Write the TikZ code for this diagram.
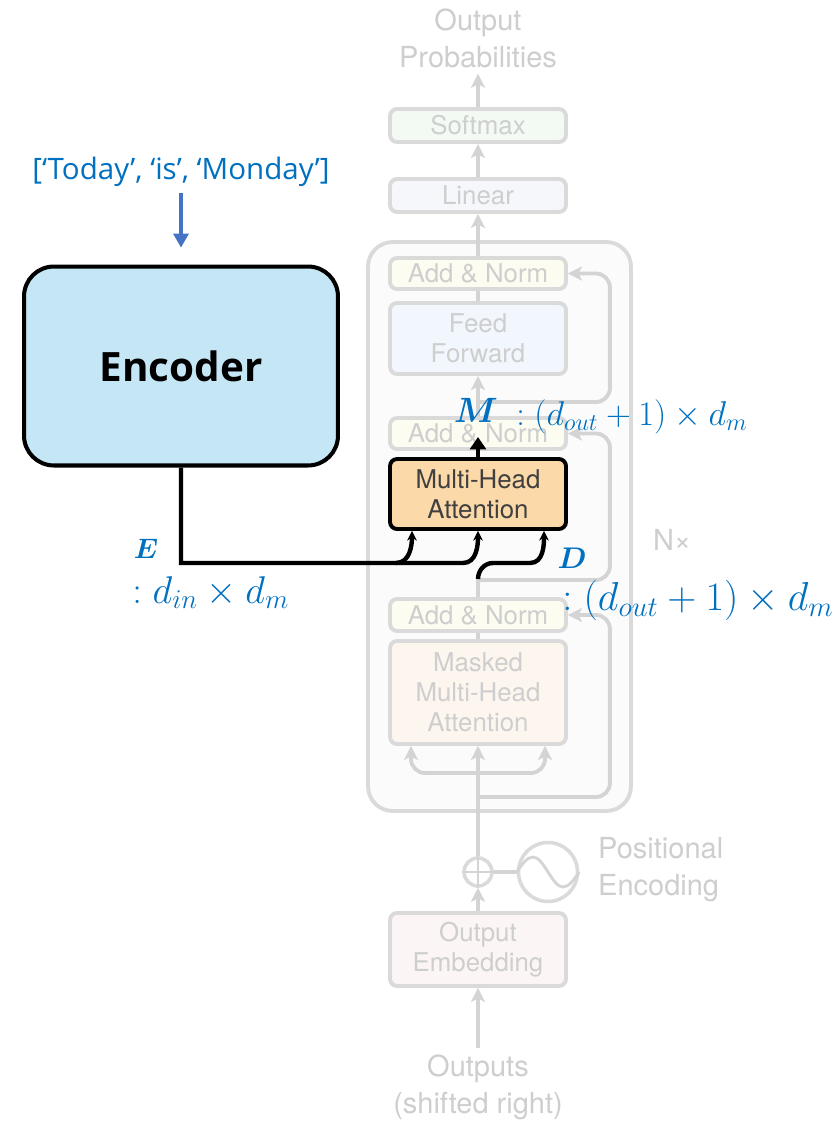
\RequirePackage{fix-cm}
\documentclass[tikz,border=0pt]{standalone}
\usepackage{amsmath, bm}
\usepackage{fontspec}
\setmainfont{Open Sans}
\newfontfamily\helv{TeX Gyre Heros}
\usepackage{xcolor}
\usetikzlibrary{arrows.meta, positioning, calc}

\definecolor{gborder}{RGB}{218,218,218}
\definecolor{gline}{RGB}{212,212,212}
\definecolor{gtext}{RGB}{206,206,206}
\definecolor{encfill}{RGB}{197,231,245}
\definecolor{mhafill}{RGB}{252,217,168}
\definecolor{dimblue}{RGB}{0,112,192}
\definecolor{arrblue}{RGB}{68,114,196}
\definecolor{softfill}{RGB}{243,250,243}
\definecolor{linfill}{RGB}{246,247,251}
\definecolor{normfill}{RGB}{252,252,241}
\definecolor{fffill}{RGB}{241,247,252}
\definecolor{maskfill}{RGB}{252,246,239}
\definecolor{embfill}{RGB}{252,245,245}
\definecolor{stackfill}{RGB}{251,251,251}

\tikzset{
  gbox/.style={draw=gborder, line width=2.2pt, rounded corners=4pt, minimum width=3.52cm,
    align=center, text=gtext, inner sep=2pt, font=\helv\fontsize{14.7}{17}\selectfont},
  glabel/.style={text=gtext, align=center, font=\helv\fontsize{16.5}{21}\selectfont},
  gline/.style={draw=gline, line width=2.2pt},
  garrow/.style={gline, -{Stealth[length=8pt, width=8pt, inset=2pt]}},
  blk/.style={line width=2.5pt, -{Stealth[length=5.5pt, width=5.5pt]}},
  dim/.style={text=dimblue, anchor=base west, inner sep=0pt},
  dimlab/.style={text=dimblue, anchor=base, inner sep=0pt},
}

\begin{document}
\begin{tikzpicture}[x=0.02cm, y=-0.02cm]
  \path[fill=white, use as bounding box] (0,0) rectangle (837,1122);

  % faded decoder stack
  \node[draw=gborder, line width=2.2pt, rounded corners=14pt, fill=stackfill,
        minimum width=5.26cm, minimum height=11.38cm] at (499.5,526.5) (stack) {};

  \node[glabel] at (478,38) (OP) {Output\\Probabilities};
  \node[gbox, fill=softfill, minimum height=0.66cm] at (478,125.5) (Soft) {Softmax};
  \node[gbox, fill=linfill, minimum height=0.66cm] at (478,195.5) (Lin) {Linear};
  \node[gbox, fill=normfill, minimum height=0.62cm] at (478,273.5) (An3) {Add \& Norm};
  \node[gbox, fill=fffill, minimum height=1.42cm] at (478,338.5) (FF) {Feed\\Forward};
  \node[gbox, fill=normfill, minimum height=0.62cm] at (478,433.5) (An2) {Add \& Norm};
  \node[gbox, fill=mhafill, draw=black, text={black!75}, minimum height=1.40cm] at (478,494) (MHA) {Multi-Head\\Attention};
  \node[gbox, fill=normfill, minimum height=0.64cm] at (478,615) (An1) {Add \& Norm};
  \node[gbox, fill=maskfill, minimum height=2.06cm] at (478,692.5) (MMHA) {Masked\\Multi-Head\\Attention};
  \node[glabel] at (672,540) (Nx) {N×};

  \node[draw=gborder, circle, line width=2pt, minimum size=0.56cm, inner sep=0pt] at (478,872) (plus) {};
  \node[draw=gborder, circle, line width=2pt, minimum size=1.18cm, inner sep=0pt] at (548,872) (pe) {};
  \node[glabel, align=left, anchor=west] at (592,870) (PEtxt) {Positional\\Encoding};
  \node[gbox, fill=embfill, minimum height=1.46cm] at (478,949.5) (Emb) {Output\\Embedding};
  \node[glabel] at (478,1087) (Outs) {Outputs\\(shifted right)};

  \draw[gline, line width=1.6pt] (plus.north) -- (plus.south) (plus.west) -- (plus.east);
  \draw[gline, line width=1.6pt] (pe.west) sin (533,857) cos (548,872) sin (563,887) cos (pe.east);
  \draw[gline] (plus.east) -- (pe.west);

  \draw[garrow] (Outs.north) -- (Emb.south);
  \draw[garrow] (Emb.north) -- (plus.south);
  \draw[garrow] (plus.north) -- (MMHA.south);
  \draw[garrow, rounded corners=8pt] (478,773) -| ($(MMHA.south)+(-67,0)$);
  \draw[garrow, rounded corners=8pt] (478,773) -| ($(MMHA.south)+(67,0)$);
  \draw[garrow, rounded corners=8pt] (478,797) -| ($(An1.east)+(42,0)$) -- (An1.east);
  \draw[gline] (MMHA.north) -- (An1.south);
  \draw[gline] (An1.north) -- (478,578);
  \draw[garrow, rounded corners=8pt] (478,580) -| ($(An2.east)+(42,0)$) -- (An2.east);
  \draw[garrow] (An2.north) -- (FF.south);
  \draw[garrow, rounded corners=8pt] (478,402) -| ($(An3.east)+(42,0)$) -- (An3.east);
  \draw[gline] (FF.north) -- (An3.south);
  \draw[garrow] (An3.north) -- (Lin.south);
  \draw[garrow] (Lin.north) -- (Soft.south);
  \draw[garrow] (Soft.north) -- (OP.south);

  % encoder side
  \node[text=dimblue, font=\fontsize{16.8}{20}\selectfont] at (181,172) (Inp) {[‘Today’, ‘is’, ‘Monday’]};
  \node[draw, line width=2.3pt, rounded corners=17pt, fill=encfill, minimum width=6.28cm,
        minimum height=3.98cm, font=\bfseries\fontsize{23}{28}\selectfont] at (181,366) (Enc) {Encoder};
  \draw[arrblue, line width=2pt, -{Triangle[length=8pt, width=8.5pt]}, shorten >=9.6pt] (Inp.south) -- (Enc.north);

  % inputs of the attention block
  \coordinate (Q) at ($(MHA.south)+(-66,0)$);
  \coordinate (V) at ($(MHA.south)+(66,0)$);
  \coordinate (Mtip) at (478,437);
  \draw[blk] (Enc.south) |- (396,563) to[out=0, in=-90] (Q);
  \draw[blk] (396,563) -- (463,563) to[out=0, in=-90] (MHA.south);
  \draw[blk] (478,579) to[out=90, in=180] (493,563) -- (530,563) to[out=0, in=-90] (V);
  \draw[line width=2.5pt, -{Triangle[length=7pt, width=9pt]}] (MHA.north) -- (Mtip);

  % sizes
  \node[dimlab, font=\fontsize{20}{22}\selectfont] at (476,422) (Mlab) {$\bm{M}$};
  \node[dim, font=\fontsize{19.6}{22}\selectfont] at (516,425) (Mdim) {$:(d_{out}+1)\times d_m$};
  \node[dimlab, font=\fontsize{16}{18}\selectfont] at (146,558) (Elab) {$\bm{E}$};
  \node[dim, font=\fontsize{22}{26}\selectfont] at (132,603) (Edim) {$:d_{in}\times d_m$};
  \node[dimlab, font=\fontsize{17}{20}\selectfont] at (572,568) (Dlab) {$\bm{D}$};
  \node[dim, font=\fontsize{23}{26}\selectfont] at (562,610) (Ddim) {$:(d_{out}+1)\times d_m$};
\end{tikzpicture}
\end{document}
